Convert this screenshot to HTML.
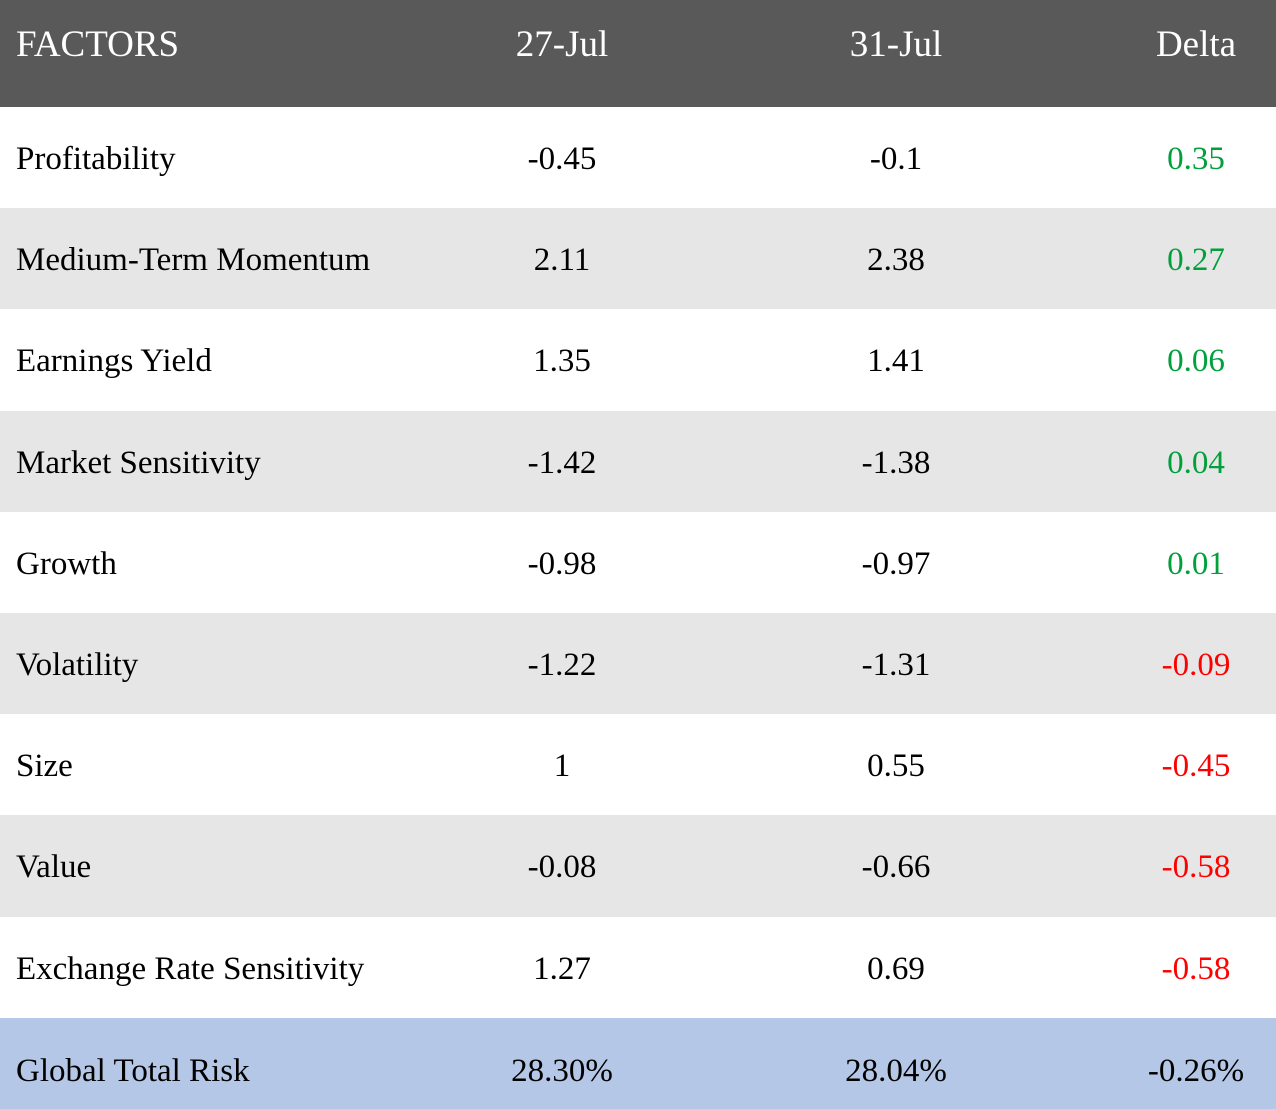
<!DOCTYPE html>
<html><head><meta charset="utf-8"><style>
html,body{margin:0;padding:0;width:1276px;height:1109px;overflow:hidden;background:#fff;}
body{font-family:"Liberation Serif","Times New Roman",serif;font-size:33px;color:#000;position:relative;}
.row{position:absolute;left:0;width:1276px;}
.c{position:absolute;top:2px;height:100%;display:flex;align-items:center;white-space:nowrap;}
.c0{left:16px;}
.c1{left:462px;width:200px;justify-content:center;}
.c2{left:796px;width:200px;justify-content:center;}
.c3{left:1096px;width:200px;justify-content:center;}
.hdr{top:0;height:107px;background:#595959;color:#fff;}
.hdr .c{height:84px;font-size:37px;}
.g{color:#00a03c;}.r{color:#ff0000;}
.alt{background:#e6e6e6;}
.tot{background:#b4c7e7;}
.tot .c{top:8px;}
</style></head><body>
<div class="row hdr">
<div class="c c0">FACTORS</div>
<div class="c c1">27-Jul</div>
<div class="c c2">31-Jul</div>
<div class="c c3">Delta</div>
</div>
<div id="rows"></div>
<script>
var names=["Profitability","Medium-Term Momentum","Earnings Yield","Market Sensitivity","Growth","Volatility","Size","Value","Exchange Rate Sensitivity","Global Total Risk"];
var jul27=["-0.45","2.11","1.35","-1.42","-0.98","-1.22","1","-0.08","1.27","28.30%"];
var jul31=["-0.1","2.38","1.41","-1.38","-0.97","-1.31","0.55","-0.66","0.69","28.04%"];
var delta=["0.35","0.27","0.06","0.04","0.01","-0.09","-0.45","-0.58","-0.58","-0.26%"];
(function(){
var host=document.getElementById('rows');
for(var i=0;i<names.length;i++){
  var y=107+i*101.2;
  var h=(i==names.length-1)?(1109-y):101.2;
  var row=document.createElement('div');
  row.className='row'+(i==names.length-1?' tot':(i%2==1?' alt':''));
  row.style.top=y+'px';row.style.height=h+'px';
  
  
  var vals=[names[i],jul27[i],jul31[i],delta[i]];
  for(var j=0;j<4;j++){
    var c=document.createElement('div');
    c.className='c c'+j;
    if(j==3&&i<names.length-1)c.className+=(delta[i].charAt(0)=='-'?' r':' g');
    c.textContent=vals[j];
    
    
    row.appendChild(c);
  }
  host.appendChild(row);
}
})();
</script>
</body></html>
